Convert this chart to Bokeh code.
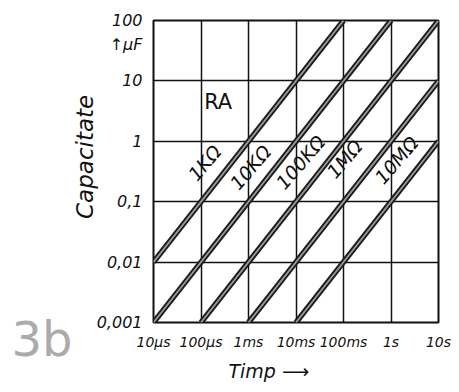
from bokeh.plotting import figure
from bokeh.models import (FixedTicker, Label, ColumnDataSource, LinearAxis,
                          Range1d, LinearScale)
from bokeh.core.properties import value
from bokeh.embed import file_html
from bokeh.resources import INLINE

# ---- data ----
x_ticks = [1e-5, 1e-4, 1e-3, 1e-2, 1e-1, 1, 10]
x_tick_labels = ["10µs", "100µs", "1ms", "10ms", "100ms", "1s", "10s"]
y_ticks = [0.001, 0.01, 0.1, 1, 10, 100]
y_tick_labels = ["0,001", "0,01", "0,1", "1", "10", "100"]
unit_tick = 40
unit_label = "↑µF"
figure_tag = "3b"

resistances = ["1KΩ", "10KΩ", "100KΩ", "1MΩ", "10MΩ"]
t_start = [1e-5, 1e-5, 1e-4, 1e-3, 1e-2]
c_start = [0.01, 0.001, 0.001, 0.001, 0.001]
t_end = [0.1, 1, 10, 10, 10]
c_end = [100, 100, 100, 10, 1]
label_t = [1.19e-4, 1.1e-3, 1.24e-2, 1.05e-1, 1.3]
label_c = [0.44, 0.37, 0.45, 0.51, 0.49]

FONT = "DejaVu Sans"
INK = "#111111"
NB = "\u00a0"

p = figure(width=451, height=384, x_axis_type="log", y_axis_type="log",
           x_range=(1e-5, 10), y_range=(1e-3, 100),
           output_backend="svg", toolbar_location=None,
           min_border_left=153, min_border_right=13,
           min_border_top=20, min_border_bottom=59)
p.background_fill_color = "white"
p.border_fill_color = "white"
p.outline_line_color = INK
p.outline_line_width = 2

p.xaxis.ticker = FixedTicker(ticks=x_ticks)
p.yaxis.ticker = FixedTicker(ticks=y_ticks + [unit_tick])
p.xaxis.major_label_overrides = {t: l for t, l in zip(x_ticks, x_tick_labels)}
y_over = {t: l for t, l in zip(y_ticks, y_tick_labels)}
y_over[unit_tick] = unit_label
p.yaxis.major_label_overrides = y_over
for ax in (p.xaxis, p.yaxis):
    ax.axis_line_color = None
    ax.minor_tick_line_color = None
    ax.major_label_text_font = FONT
    ax.major_label_text_font_style = "italic"
    ax.major_label_text_color = INK
    ax.axis_label_text_font = FONT
    ax.axis_label_text_font_style = "italic"
    ax.axis_label_text_color = INK
p.xaxis.major_tick_line_color = None
p.xaxis.major_label_text_font_size = "14px"
p.xaxis.major_label_standoff = 5
p.xaxis.axis_label = "Timp ⟶" + NB * 9
p.xaxis.axis_label_text_font_size = "19px"
p.xaxis.axis_label_standoff = 7
p.yaxis.major_tick_line_color = None
p.yaxis.major_label_text_font_size = "16px"
p.yaxis.major_label_standoff = 5
p.yaxis.axis_label = NB * 4 + "Capacitate"
p.yaxis.axis_label_text_font_size = "23px"
p.yaxis.axis_label_standoff = -4

# figure tag "3b" drawn as the only tick label of an extra left axis
p.extra_y_ranges = {"tag": Range1d(0, 1)}
p.extra_y_scales = {"tag": LinearScale()}
tag_axis = LinearAxis(y_range_name="tag", ticker=FixedTicker(ticks=[0.055]),
                      major_label_overrides={0.055: "\n" + figure_tag})
tag_axis.axis_line_color = None
tag_axis.major_tick_line_color = None
tag_axis.minor_tick_line_color = None
tag_axis.major_label_text_font = FONT
tag_axis.major_label_text_font_size = "48px"
tag_axis.major_label_text_color = "#ababab"
tag_axis.major_label_standoff = -10
p.add_layout(tag_axis, "left")

p.xgrid.ticker = FixedTicker(ticks=x_ticks)
p.ygrid.ticker = FixedTicker(ticks=y_ticks)
p.xgrid.grid_line_color = INK
p.ygrid.grid_line_color = INK
p.xgrid.grid_line_width = 1.5
p.ygrid.grid_line_width = 1.5
p.xgrid.grid_line_alpha = 1
p.ygrid.grid_line_alpha = 1

src = ColumnDataSource(dict(x0=t_start, y0=c_start, x1=t_end, y1=c_end))
p.segment("x0", "y0", "x1", "y1", source=src, line_color="#1a1a1a", line_width=5.5)
p.segment("x0", "y0", "x1", "y1", source=src, line_color="#9a9a9a", line_width=1.8)

lab = ColumnDataSource(dict(x=label_t, y=label_c, text=resistances))
p.text("x", "y", text="text", source=lab, angle=0.86,
       text_align="center", text_baseline="middle",
       text_font=value(FONT), text_font_style="italic",
       text_font_size="19px", text_color=INK)

p.add_layout(Label(x=2.3e-4, y=4.5, text="RA", text_font=FONT,
                   text_font_size="21px", text_color=INK,
                   text_align="center", text_baseline="middle"))

open("out.html", "w").write(file_html(p, INLINE))
